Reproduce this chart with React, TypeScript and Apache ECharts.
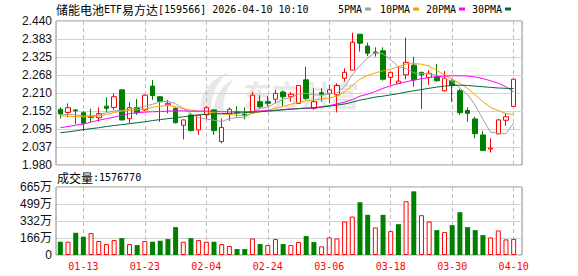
import React, { useEffect, useRef } from 'react';
import * as echarts from 'echarts';

const dates = [
  '01-08','01-09','01-12','01-13','01-14','01-15','01-16','01-19','01-20','01-21',
  '01-22','01-23','01-26','01-27','01-28','01-29','01-30','02-02','02-03','02-04',
  '02-05','02-06','02-09','02-10','02-11','02-12','02-13','02-24','02-25','02-26',
  '02-27','03-02','03-03','03-04','03-05','03-06','03-09','03-10','03-11','03-12',
  '03-13','03-16','03-17','03-18','03-19','03-20','03-23','03-24','03-25','03-26',
  '03-27','03-30','03-31','04-01','04-02','04-03','04-07','04-08','04-09','04-10',
];
const tickDates = ['01-13','01-23','02-04','02-24','03-06','03-18','03-30','04-10'];
const priceTicks = ['1.980','2.037','2.095','2.152','2.210','2.268','2.325','2.383','2.440'];
const volTicks = ['0','166万','332万','499万','665万'];

const opens = [
  2.158,2.148,2.156,2.147,2.136,2.131,2.168,2.164,2.220,2.128,
  2.164,2.156,2.232,2.198,2.172,2.161,2.107,2.140,2.092,2.140,
  2.156,2.055,2.142,2.150,2.142,2.147,2.182,2.182,2.190,2.213,
  2.198,2.177,2.252,2.161,2.211,2.209,2.204,2.257,2.283,2.398,
  2.360,2.341,2.345,2.260,2.241,2.268,2.299,2.276,2.260,2.262,
  2.217,2.248,2.217,2.154,2.127,2.076,2.031,2.079,2.123,2.167,
];
const closes = [
  2.143,2.163,2.153,2.113,2.132,2.144,2.161,2.198,2.124,2.163,
  2.147,2.203,2.202,2.184,2.177,2.115,2.124,2.090,2.139,2.163,
  2.090,2.100,2.158,2.147,2.138,2.203,2.166,2.177,2.209,2.198,
  2.206,2.234,2.193,2.182,2.206,2.220,2.234,2.276,2.372,2.369,
  2.337,2.338,2.254,2.276,2.248,2.308,2.252,2.268,2.273,2.249,
  2.256,2.234,2.147,2.145,2.080,2.026,2.034,2.124,2.134,2.254,
];
const lows = [
  2.128,2.132,2.110,2.088,2.118,2.118,2.150,2.156,2.122,2.113,
  2.140,2.153,2.188,2.118,2.145,2.113,2.062,2.087,2.076,2.126,
  2.076,2.049,2.121,2.134,2.126,2.145,2.161,2.168,2.177,2.168,
  2.182,2.177,2.188,2.156,2.182,2.177,2.148,2.246,2.283,2.342,
  2.328,2.326,2.249,2.236,2.241,2.254,2.230,2.159,2.236,2.246,
  2.214,2.182,2.140,2.118,2.065,2.026,2.020,2.079,2.105,2.167,
];
const highs = [
  2.164,2.177,2.158,2.152,2.160,2.164,2.196,2.209,2.220,2.181,
  2.191,2.205,2.252,2.200,2.188,2.164,2.125,2.147,2.139,2.168,
  2.158,2.129,2.164,2.168,2.164,2.214,2.203,2.200,2.220,2.217,
  2.213,2.234,2.294,2.225,2.225,2.236,2.241,2.289,2.403,2.398,
  2.371,2.356,2.356,2.276,2.294,2.387,2.326,2.278,2.283,2.303,
  2.280,2.254,2.223,2.164,2.134,2.089,2.065,2.127,2.145,2.254,
];
const volumes = [
  1298000,1298000,2173000,1784000,2141000,1362000,1070000,1460000,1654000,1070000,
  973000,1362000,1298000,1395000,1557000,2725000,1298000,1654000,1460000,1298000,
  1298000,1070000,876000,584000,584000,1622000,1070000,973000,1557000,1070000,
  973000,1265000,1849000,1265000,843000,1719000,1622000,3276000,3763000,5158000,
  3925000,2692000,3925000,2336000,3017000,5255000,6228000,3893000,3276000,2433000,
  2238000,2920000,4185000,2725000,2433000,1946000,1719000,2400000,1525000,1576770,
];
const ma5 = [
  2.140,2.142,2.140,2.137,2.136,2.141,2.147,2.153,2.154,2.158,
  2.162,2.168,2.174,2.181,2.184,2.176,2.161,2.143,2.131,2.127,
  2.123,2.119,2.128,2.132,2.131,2.150,2.160,2.165,2.178,2.190,
  2.195,2.207,2.209,2.204,2.203,2.207,2.210,2.230,2.268,2.298,
  2.322,2.339,2.335,2.316,2.294,2.288,2.274,2.272,2.271,2.267,
  2.256,2.247,2.226,2.205,2.171,2.126,2.085,2.082,2.080,2.114,
];
const ma10 = [
  2.137,2.136,2.134,2.134,2.135,2.137,2.141,2.148,2.152,2.154,
  2.156,2.159,2.164,2.168,2.170,2.166,2.160,2.155,2.152,2.150,
  2.147,2.143,2.141,2.139,2.137,2.145,2.150,2.156,2.161,2.167,
  2.174,2.180,2.185,2.188,2.191,2.194,2.200,2.214,2.234,2.254,
  2.266,2.274,2.281,2.286,2.294,2.303,2.304,2.302,2.296,2.282,
  2.267,2.254,2.241,2.225,2.204,2.182,2.164,2.154,2.144,2.142,
];
const ma20 = [
  2.099,2.103,2.107,2.111,2.117,2.123,2.128,2.133,2.139,2.144,
  2.147,2.149,2.150,2.151,2.152,2.153,2.153,2.152,2.152,2.152,
  2.151,2.150,2.150,2.150,2.150,2.151,2.153,2.153,2.155,2.157,
  2.159,2.160,2.161,2.162,2.166,2.170,2.175,2.181,2.189,2.200,
  2.206,2.215,2.225,2.233,2.240,2.246,2.251,2.256,2.259,2.263,
  2.264,2.265,2.265,2.264,2.261,2.256,2.249,2.241,2.230,2.213,
];
const ma30 = [
  2.083,2.086,2.089,2.093,2.096,2.099,2.103,2.106,2.109,2.112,
  2.115,2.118,2.122,2.125,2.128,2.131,2.134,2.137,2.140,2.142,
  2.143,2.144,2.145,2.146,2.147,2.149,2.150,2.152,2.154,2.156,
  2.158,2.160,2.162,2.163,2.165,2.168,2.171,2.175,2.181,2.187,
  2.192,2.197,2.200,2.204,2.208,2.213,2.217,2.221,2.225,2.229,
  2.232,2.234,2.235,2.234,2.232,2.230,2.228,2.226,2.225,2.224,
];
const maNames = ['5PMA', '10PMA', '20PMA', '30PMA'];
const maColors = ['#a0a0a0', '#f5a000', '#ff00ff', '#006a36'];
const maSeries = [ma5, ma10, ma20, ma30];

const UP = '#ff0000';
const DOWN = '#008000';
const MONO = 'DejaVu Sans Mono';
const CJK = 'Noto Sans CJK SC';
const LABEL_FONT = 'Liberation Sans, Noto Sans CJK SC';

// layout of the plot: frame from x=56 to 522, candle band area from 56.5 over 461 px
const FRAME_L = 56;
const FRAME_W = 466;
const BAND_L = 56.5;
const BAND_W = 461;
const STEP = 8; // labelled date every 8 sessions
const FIRST_LABEL = dates.indexOf(tickDates[0]);
const bandPx = BAND_W / dates.length;
// guide axis in "label units": value k sits on the centre of the k-th labelled date
const toGuide = (x: number) => ((x - BAND_L) / bandPx - 0.5 - FIRST_LABEL) / STEP;
const guideMin = toGuide(FRAME_L);
const guideMax = toGuide(FRAME_L + FRAME_W);

let logoRegistered = false;
function registerLogo() {
  if (logoRegistered) return;
  logoRegistered = true;
  echarts.graphic.registerShape(
    'logo',
    echarts.graphic.extendPath(
      'M2 40 C0 24 8 8 30 0 C18 10 12 22 12 40 Z M15 40 C15 26 21 14 35 7 C27 17 23 28 25 40 Z',
      {}
    ) as any
  );
}

const guideAxis = (gridIndex: number) => ({
  gridIndex,
  type: 'value',
  min: guideMin,
  max: guideMax,
  splitNumber: 8,
  minInterval: 1,
  maxInterval: 1,
  axisLine: { show: false },
  axisTick: { show: false },
  axisLabel: { show: false },
  splitLine: { show: true, lineStyle: { color: '#bcbcbc', width: 1, type: [4, 3] } },
});

export default function App() {
  const ref = useRef<HTMLDivElement>(null);

  useEffect(() => {
    if (!ref.current) return;
    registerLogo();
    const chart = echarts.init(ref.current, undefined, { renderer: 'svg' });

    const ohlc = dates.map((_, i) => [opens[i], closes[i], lows[i], highs[i]]);
    const volData = volumes.map((v, i) => {
      const up = i > 0 && closes[i] >= closes[i - 1];
      return {
        value: v,
        itemStyle: up
          ? { color: '#ffffff', borderColor: UP, borderWidth: 1 }
          : { color: DOWN, borderColor: DOWN, borderWidth: 0 },
      };
    });

    const legendX = [338, 380, 426, 472];
    const legendRectX = [365, 413, 459, 505];
    const legendGraphics: any[] = [];
    maNames.forEach((n, k) => {
      legendGraphics.push({
        type: 'text',
        x: legendX[k],
        y: 9,
        style: { text: n, fontFamily: MONO, fontSize: 10, fill: '#000', verticalAlign: 'middle' },
      });
      legendGraphics.push({
        type: 'rect',
        shape: { x: legendRectX[k], y: 7.5, width: 6, height: 3 },
        style: { fill: maColors[k] },
      });
    });

    const axisLabelStyle = {
      interval: 0,
      margin: 4,
      fontSize: 12,
      fontFamily: LABEL_FONT,
      color: '#111',
    };

    const option: any = {
      animation: false,
      backgroundColor: '#ffffff',
      grid: [
        { left: FRAME_L, top: 21, width: FRAME_W, height: 144, show: true, borderColor: '#8c8c8c', borderWidth: 1 },
        { left: BAND_L, top: 21, width: BAND_W, height: 144 },
        { left: FRAME_L, top: 187, width: FRAME_W, height: 68, show: true, borderColor: '#8c8c8c', borderWidth: 1 },
        { left: BAND_L, top: 187, width: BAND_W, height: 68 },
      ],
      xAxis: [
        guideAxis(0),
        {
          gridIndex: 1,
          type: 'category',
          data: dates,
          boundaryGap: true,
          axisLine: { show: false },
          axisTick: { show: false },
          axisLabel: { show: false },
          splitLine: { show: false },
        },
        guideAxis(2),
        {
          gridIndex: 3,
          type: 'category',
          data: dates,
          boundaryGap: true,
          axisLine: { show: false },
          axisTick: { show: false },
          splitLine: { show: false },
          axisLabel: {
            interval: (_i: number, v: string) => tickDates.includes(v),
            color: '#ff0000',
            fontFamily: MONO,
            fontSize: 10,
            margin: 6,
          },
        },
      ],
      yAxis: [
        {
          gridIndex: 0,
          type: 'category',
          data: priceTicks,
          boundaryGap: false,
          axisLine: { show: false },
          axisTick: { show: false },
          axisLabel: axisLabelStyle,
          splitLine: { show: true, interval: 0, lineStyle: { color: '#d4d4d4', width: 1 } },
        },
        { gridIndex: 1, type: 'value', min: 1.98, max: 2.44, show: false },
        {
          gridIndex: 2,
          type: 'category',
          data: volTicks,
          boundaryGap: false,
          axisLine: { show: false },
          axisTick: { show: false },
          axisLabel: axisLabelStyle,
          splitLine: { show: true, interval: 0, lineStyle: { color: '#d4d4d4', width: 1 } },
        },
        { gridIndex: 3, type: 'value', min: 0, max: 6650000, show: false },
      ],
      series: [
        {
          type: 'candlestick',
          xAxisIndex: 1,
          yAxisIndex: 1,
          data: ohlc,
          barWidth: 5,
          z: 2,
          itemStyle: {
            color: '#ffffff',
            color0: DOWN,
            borderColor: UP,
            borderColor0: DOWN,
            borderWidth: 1,
          },
        },
        ...maSeries.map((d, k) => ({
          type: 'line',
          name: maNames[k],
          xAxisIndex: 1,
          yAxisIndex: 1,
          data: d,
          showSymbol: false,
          symbol: 'none',
          z: 3,
          lineStyle: { width: 1, color: maColors[k] },
          itemStyle: { color: maColors[k] },
        })),
        {
          type: 'bar',
          xAxisIndex: 3,
          yAxisIndex: 3,
          data: volData,
          barWidth: 5,
          z: 2,
        },
      ],
      graphic: [
        {
          type: 'text',
          x: 243,
          y: 94,
          z: -1,
          silent: true,
          style: {
            text: '东方财富',
            fontFamily: CJK,
            fontSize: 29,
            fontWeight: 'bold',
            fill: '#e8e8e8',
            verticalAlign: 'middle',
          },
        },
        {
          type: 'logo',
          x: 199,
          y: 72,
          scaleX: 1,
          scaleY: 1,
          z: -1,
          silent: true,
          style: { fill: '#e8e8e8' },
        },
        {
          type: 'text',
          x: 56,
          y: 9,
          style: {
            text: '{c|储能电池}{a|ETF}{c|易方达}{a|[159566] 2026-04-10 10:10}',
            verticalAlign: 'middle',
            rich: {
              c: { fontFamily: CJK, fontSize: 12, fill: '#000' },
              a: { fontFamily: MONO, fontSize: 10, fill: '#000' },
            },
          },
        },
        ...legendGraphics,
        {
          type: 'text',
          x: 57,
          y: 177,
          style: {
            text: '{c|成交量}{a|:1576770}',
            verticalAlign: 'middle',
            rich: {
              c: { fontFamily: CJK, fontSize: 12, fill: '#000' },
              a: { fontFamily: MONO, fontSize: 10, fill: '#000' },
            },
          },
        },
      ],
    };

    chart.setOption(option);
    return () => {
      chart.dispose();
    };
  }, []);

  return (
    <div
      ref={ref}
      style={{ position: 'fixed', left: 0, top: 0, width: 578, height: 276, background: '#fff' }}
    />
  );
}
